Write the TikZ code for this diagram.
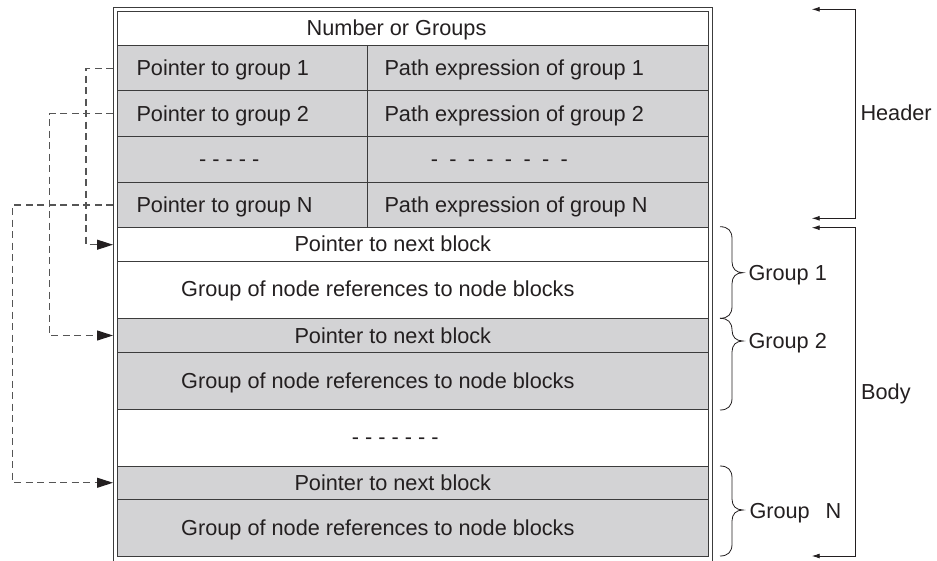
\documentclass[tikz,border=0pt]{standalone}
\usepackage{fontspec}
\setmainfont{Liberation Sans}
\usetikzlibrary{arrows.meta}

\definecolor{ink}{HTML}{231F20}
\definecolor{rule}{HTML}{3C3C3C}
\definecolor{cellgray}{HTML}{D3D3D5}
\definecolor{dashgray}{HTML}{555555}

% curly brace opening to the right: top y, tip y, bottom y
\newcommand\grpbrace[3]{%
  \draw[bracestyle] (720,#1) .. controls (728,#1) and (732,#1+4) .. (732,#1+12)
    -- (732,#2-11) .. controls (732,#2-4) and (736,#2) .. (743,#2)
    .. controls (736,#2) and (732,#2+4) .. (732,#2+11)
    -- (732,#3-12) .. controls (732,#3-4) and (728,#3) .. (720,#3);}

\begin{document}
\begin{tikzpicture}[x=1pt,y=-1pt,
  font=\fontsize{21.7}{26}\selectfont,
  cell/.style={draw=rule, line width=0.9pt, inner sep=0pt, outer sep=0pt,
    anchor=north west},
  graycell/.style={cell, fill=cellgray},
  txt/.style={inner sep=0pt, anchor=base west, text=ink},
  frameline/.style={draw=rule, line width=0.9pt},
  link/.style={draw=dashgray, line width=1.1pt, dash pattern=on 7pt off 4.5pt,
    -{Triangle[length=16pt,width=10pt,color=ink]}},
  span/.style={draw=ink, line width=0.9pt,
    {Latex[length=8pt,width=5pt]}-{Latex[length=8pt,width=5pt]}},
  bracestyle/.style={draw=ink, line width=0.8pt}]

\useasboundingbox (0,0) rectangle (937,560);

% header cells
\node[cell, minimum width=591pt, minimum height=34.7pt] (num) at (117,11) {};
\node[graycell, minimum width=250.7pt, minimum height=45pt] (p1) at (117,45.7) {};
\node[graycell, minimum width=340.3pt, minimum height=45pt] (e1) at (367.7,45.7) {};
\node[graycell, minimum width=250.7pt, minimum height=46pt] (p2) at (117,90.7) {};
\node[graycell, minimum width=340.3pt, minimum height=46pt] (e2) at (367.7,90.7) {};
\node[graycell, minimum width=250.7pt, minimum height=45.6pt] (pd) at (117,136.7) {};
\node[graycell, minimum width=340.3pt, minimum height=45.6pt] (ed) at (367.7,136.7) {};
\node[graycell, minimum width=250.7pt, minimum height=45.4pt] (pN) at (117,182.3) {};
\node[graycell, minimum width=340.3pt, minimum height=45.4pt] (eN) at (367.7,182.3) {};

% body cells
\node[cell, minimum width=591pt, minimum height=34pt] (nb1) at (117,227.7) {};
\node[cell, minimum width=591pt, minimum height=56.8pt] (g1) at (117,261.7) {};
\node[graycell, minimum width=591pt, minimum height=34pt] (nb2) at (117,318.5) {};
\node[graycell, minimum width=591pt, minimum height=57pt] (g2) at (117,352.5) {};
\node[cell, minimum width=591pt, minimum height=56.5pt] (gap) at (117,409.5) {};
\node[graycell, minimum width=591pt, minimum height=33.5pt] (nbN) at (117,466) {};
\node[graycell, minimum width=591pt, minimum height=56.5pt] (gN) at (117,499.5) {};

% double frame
\draw[frameline] (117,11) rectangle (708,556);
\draw[frameline] (113,7) rectangle (712,564);
\coordinate (fw) at (113,0);

% cell texts
\node[txt] (tnum) at (306.5,35.5) {Number or Groups};
\node[txt] (tp1) at (136.3,75.7) {Pointer to group 1};
\node[txt] (te1) at (384.3,75.7) {Path expression of group 1};
\node[txt] (tp2) at (136.3,121.3) {Pointer to group 2};
\node[txt] (te2) at (384.3,121.3) {Path expression of group 2};
\node[txt] (tpd) at (199,166) {- - - - -};
\node[txt] (ted) at (430.7,166) {-\hspace{11.3pt}-\hspace{11.3pt}-\hspace{11.3pt}-\hspace{11.3pt}-\hspace{11.3pt}-\hspace{11.3pt}-\hspace{11.3pt}-};
\node[txt] (tpN) at (136.3,212.4) {Pointer to group N};
\node[txt] (teN) at (384.3,212.4) {Path expression of group N};
\node[txt] (tnb1) at (294.3,251) {Pointer to next block};
\node[txt] (tg1) at (181,296.5) {Group of node references to node blocks};
\node[txt] (tnb2) at (294.3,343.1) {Pointer to next block};
\node[txt] (tg2) at (181,388.6) {Group of node references to node blocks};
\node[txt] (tgap) at (351.7,444.3) {- - - - - - -};
\node[txt] (tnbN) at (294.3,490.3) {Pointer to next block};
\node[txt] (tgN) at (181,535.3) {Group of node references to node blocks};

% pointers from the header to the group blocks
\draw[link] (fw |- p1.center) -- ++(-27,0) |- (fw |- nb1.center);
\draw[link] (fw |- p2.center) -- ++(-63.7,0) |- (fw |- nb2.center);
\draw[link] (fw |- pN.center) -- ++(-100.3,0) |- (fw |- nbN.center);

% header / body extents
\coordinate (hT) at (811.7,9.3);
\coordinate (hB) at (811.7,218.3);
\coordinate (bT) at (811.7,227.7);
\coordinate (bB) at (811.7,556);
\draw[span] (hT) -- ++(44,0) |- (hB);
\draw[span] (bT) -- ++(44,0) |- (bB);
\node[txt] (lhead) at (860.3,120.6) {Header};
\node[txt] (lbody) at (861,399.3) {Body};

% group braces
\grpbrace{226.7}{272.7}{318.3}
\grpbrace{318.3}{341}{410}
\grpbrace{466}{510}{556}
\node[txt] (lg1) at (748.3,280) {Group 1};
\node[txt] (lg2) at (748.3,348.3) {Group 2};
\node[txt] (lgN) at (749.3,518.3) {Group\hspace{15.8pt}N};

\end{tikzpicture}
\end{document}
